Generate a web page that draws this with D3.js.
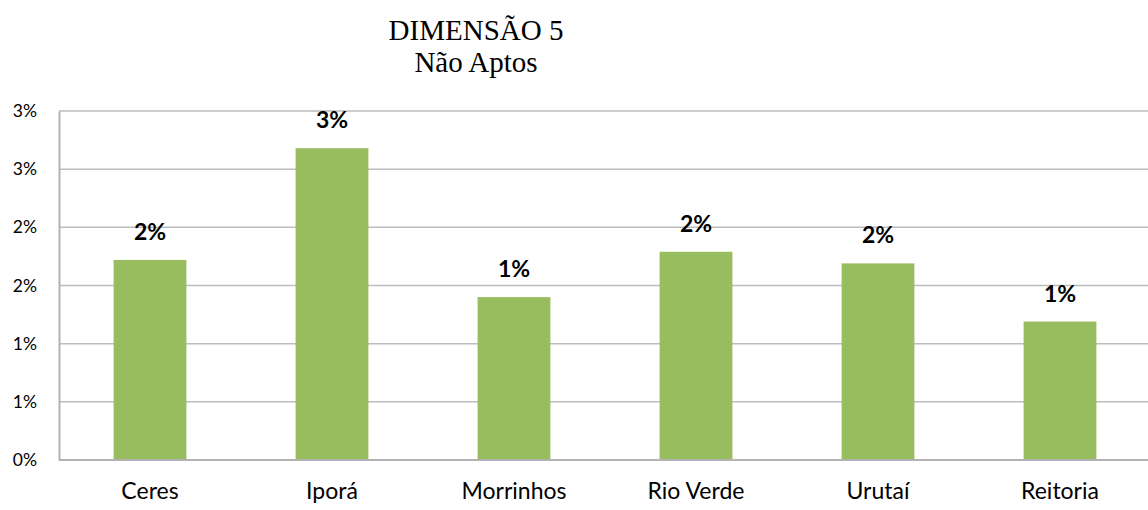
<!DOCTYPE html>
<meta charset="utf-8">
<script src="https://d3js.org/d3.v7.min.js"></script>
<style>
  body { margin: 0; background: #fff; }
</style>
<div id="chart"></div>
<script>
var campus = ["Ceres", "Iporá", "Morrinhos", "Rio Verde", "Urutaí", "Reitoria"];
var naoAptos = [1.72, 2.68, 1.40, 1.79, 1.69, 1.19];
var barLabels = ["2%", "3%", "1%", "2%", "2%", "1%"];
var tickValues = [0, 0.5, 1, 1.5, 2, 2.5, 3];
var tickLabels = ["0%", "1%", "1%", "2%", "2%", "3%", "3%"];
var titleLines = ["DIMENSÃO 5", "Não Aptos"];

var W = 1148, H = 510;
var margin = {top: 111, right: -3, bottom: 50, left: 59},
    width = W - margin.left - margin.right,
    height = H - margin.top - margin.bottom;

var svg = d3.select("#chart")
  .append("svg")
    .attr("width", W)
    .attr("height", H);

var g = svg.append("g")
    .attr("transform", "translate(" + margin.left + "," + margin.top + ")");

var x = d3.scaleBand()
    .domain(campus)
    .range([0, width])
    .paddingInner(0.6)
    .paddingOuter(0.3);

var y = d3.scaleLinear()
    .domain([0, 3])
    .range([height, 0]);

// gridlines
g.append("g")
  .selectAll("line")
  .data(tickValues.slice(1))
  .enter()
  .append("line")
    .attr("x1", 0)
    .attr("x2", width)
    .attr("y1", function(d) { return y(d); })
    .attr("y2", function(d) { return y(d); })
    .style("stroke", "#bdbdbd")
    .style("stroke-width", 1.5);

// y axis
var yAxis = g.append("g")
    .call(d3.axisLeft(y).tickValues(tickValues)
      .tickFormat(function(d, i) { return tickLabels[i]; })
      .tickSize(0).tickPadding(22));
yAxis.select(".domain").style("stroke", "#b3b3b3").style("stroke-width", 2);
yAxis.selectAll("text")
    .style("font-family", "Lato, 'Open Sans', sans-serif")
    .style("font-size", "17.5px")
    .style("fill", "#000");

// bars
g.append("g")
  .selectAll("rect")
  .data(naoAptos)
  .enter()
  .append("rect")
    .attr("x", function(d, i) { return x(campus[i]); })
    .attr("y", function(d) { return y(d); })
    .attr("width", x.bandwidth())
    .attr("height", function(d) { return height - y(d); })
    .style("fill", "#98bd5e");

// x axis
var xAxis = g.append("g")
    .attr("transform", "translate(0," + height + ")")
    .call(d3.axisBottom(x).tickSize(0).tickPadding(23));
xAxis.select(".domain")
    .attr("d", "M0,0H" + width)
    .style("stroke", "#b3b3b3").style("stroke-width", 2);
xAxis.selectAll("text")
    .style("font-family", "Lato, 'Open Sans', sans-serif")
    .style("font-size", "23px")
    .style("fill", "#000");

// value labels
g.append("g")
  .selectAll("text")
  .data(naoAptos)
  .enter()
  .append("text")
    .attr("x", function(d, i) { return x(campus[i]) + x.bandwidth() / 2; })
    .attr("y", function(d) { return y(d) - 20; })
    .attr("text-anchor", "middle")
    .style("font-family", "Lato, 'Open Sans', sans-serif")
    .style("font-weight", "bold")
    .style("font-size", "23px")
    .style("fill", "#000")
    .text(function(d, i) { return barLabels[i]; });

// title
svg.append("g")
  .selectAll("text")
  .data(titleLines)
  .enter()
  .append("text")
    .attr("x", 476)
    .attr("y", function(d, i) { return 40 + i * 32; })
    .attr("text-anchor", "middle")
    .style("font-family", "'Liberation Serif', 'Times New Roman', serif")
    .style("font-size", "29px")
    .style("fill", "#000")
    .text(function(d) { return d; });
</script>
